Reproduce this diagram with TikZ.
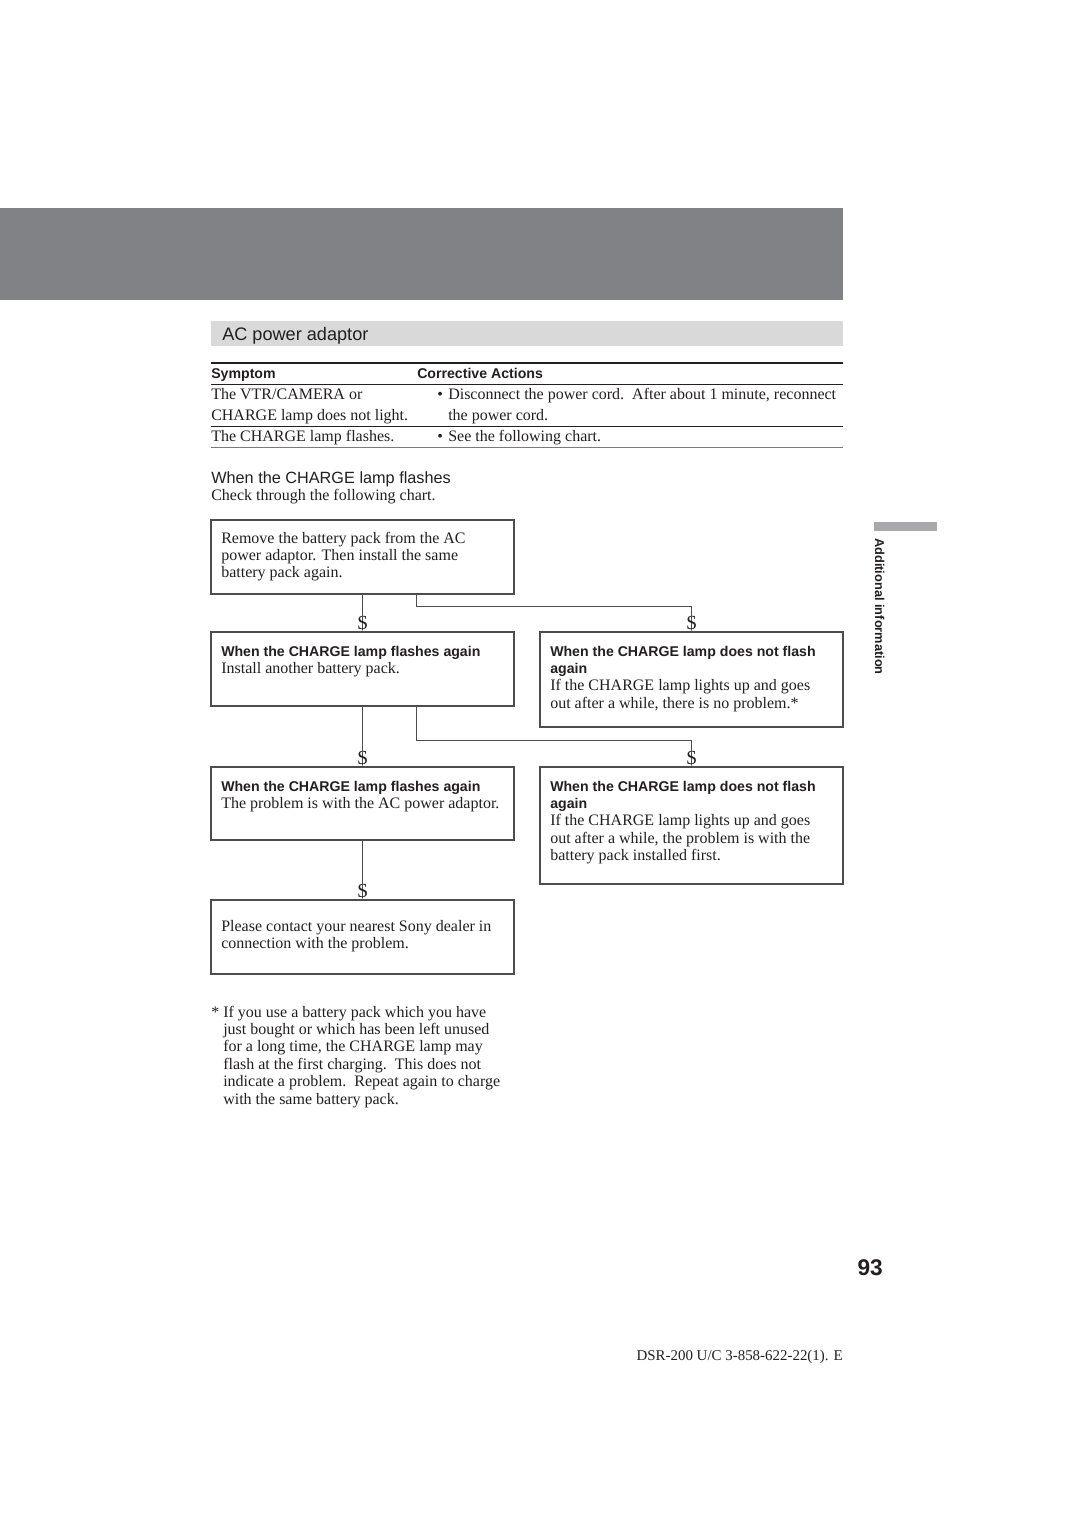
\documentclass[tikz,border=0pt]{standalone}
\usepackage{fontspec}
\setmainfont{Liberation Serif}
\setsansfont{Liberation Sans}
\usetikzlibrary{fit}
\definecolor{ink}{HTML}{231F20}
\definecolor{band}{HTML}{808285}
\definecolor{bar}{HTML}{D9D9DA}
\definecolor{tabgray}{HTML}{A7A9AC}
\definecolor{rule}{HTML}{4D4D4F}
\newcommand{\hdfont}{\sffamily\bfseries\fontsize{10.6}{13.1}\selectfont}
\newcommand{\bodyfont}{\rmfamily\fontsize{12}{13.1}\selectfont}
\begin{document}
\begin{tikzpicture}[x=0.75pt,y=-0.75pt,
  box/.style={draw=rule, line width=1.1pt, inner sep=0pt},
  conn/.style={draw=rule, line width=1.1pt},
  tip/.style={inner sep=0pt, font=\rmfamily\fontsize{15}{15}\selectfont, text=ink, anchor=south},
  txt/.style={inner sep=0pt, anchor=base west, text=ink, font=\bodyfont},
  hd/.style={inner sep=0pt, anchor=base west, text=ink, font=\hdfont},
  trule/.style={draw=ink, line width=0.5pt}
]
\fill[white] (0,0) rectangle (1080,1528);
\useasboundingbox (0,0) rectangle (1080,1528);

% top band and title bar
\fill[band] (0,208) rectangle (843,300);
\fill[bar] (211,321) rectangle (843,346);
\node[inner sep=0pt, anchor=base west, text=ink, font=\sffamily\fontsize{13.6}{16}\selectfont] (title) at (222,340) {AC power adaptor};

% table
\draw[draw=ink, line width=1.4pt] (211,363) -- (843,363);
\node[hd] (hs) at (211,378) {Symptom};
\node[hd] (hc) at (417,378) {Corrective Actions};
\draw[trule] (211,384) -- (843,384);
\node[txt] (r1) at (211,399) {\parbox[t]{200pt}{\fontsize{12}{15.75}\selectfont The VTR/CAMERA or\\CHARGE lamp does not light.}};
\node[txt] (r1b) at (437,399) {\textbullet};
\node[txt] (r1c) at (448,399) {\parbox[t]{300pt}{\fontsize{12}{15.75}\selectfont Disconnect the power cord.\ \ After about 1 minute, reconnect\\the power cord.}};
\draw[trule] (211,426) -- (843,426);
\node[txt] (r2) at (211,441) {The CHARGE lamp flashes.};
\node[txt] (r2b) at (437,441) {\textbullet};
\node[txt] (r2c) at (448,441) {See the following chart.};
\draw[draw=ink!60, line width=0.5pt] (211,447) -- (843,447);

% section heading
\node[inner sep=0pt, anchor=base west, text=ink, font=\sffamily\fontsize{12.2}{14}\selectfont] (sec) at (211,483) {When the CHARGE lamp flashes};
\node[txt] (chk) at (211,500) {Check through the following chart.};

% boxes
\node[box, fit={(211,520)(514,594)}] (b1) {};
\node[box, fit={(211,632)(514,706)}] (b2) {};
\node[box, fit={(540,632)(843,727)}] (b3) {};
\node[box, fit={(211,767)(514,840)}] (b4) {};
\node[box, fit={(540,767)(843,884)}] (b5) {};
\node[box, fit={(211,900)(514,974)}] (b6) {};

\node[txt] (t1) at (221,543) {\parbox[t]{220pt}{Remove the battery pack from the AC\\power adaptor. Then install the same\\battery pack again.}};
\node[txt] (t2) at (221,656) {\parbox[t]{220pt}{{\hdfont When the CHARGE lamp flashes again}\\Install another battery pack.}};
\node[txt] (t3) at (550,656) {\parbox[t]{220pt}{{\hdfont When the CHARGE lamp does not flash}\\{\hdfont again}\\If the CHARGE lamp lights up and goes\\out after a while, there is no problem.*}};
\node[txt] (t4) at (221,791) {\parbox[t]{220pt}{{\hdfont When the CHARGE lamp flashes again}\\The problem is with the AC power adaptor.}};
\node[txt] (t5) at (550,791) {\parbox[t]{220pt}{{\hdfont When the CHARGE lamp does not flash}\\{\hdfont again}\\If the CHARGE lamp lights up and goes\\out after a while, the problem is with the\\battery pack installed first.}};
\node[txt] (t6) at (221,931) {\parbox[t]{220pt}{Please contact your nearest Sony dealer in\\connection with the problem.}};

% arrow tips (printed as $)
\node[tip] (a1) at (b2.north) {\$};
\node[tip] (a2) at (b3.north) {\$};
\node[tip] (a3) at (b4.north) {\$};
\node[tip] (a4) at (b5.north) {\$};
\node[tip] (a5) at (b6.north) {\$};

% connectors
\draw[conn] (b1.south) -- ([yshift=-3pt]a1.north);
\draw[conn] ([xshift=40.5pt]b1.south) -- ++(0,12) -| ([yshift=-3pt]a2.north);
\draw[conn] (b2.south) -- ([yshift=-3pt]a3.north);
\draw[conn] ([xshift=40.5pt]b2.south) -- ++(0,34) -| ([yshift=-3pt]a4.north);
\draw[conn] (b4.south) -- ([yshift=-3pt]a5.north);

% footnote
\node[txt] (star) at (211,1017) {*};
\node[txt] (fn) at (223,1017) {\parbox[t]{220pt}{\fontsize{12}{13.05}\selectfont If you use a battery pack which you have\\just bought or which has been left unused\\for a long time, the CHARGE lamp may\\flash at the first charging.\ \ This does not\\indicate a problem.\ \ Repeat again to charge\\with the same battery pack.}};

% side tab
\fill[tabgray] (874,522) rectangle (937,531);
\node[inner sep=0pt, rotate=-90, anchor=base west, text=ink, font=\sffamily\bfseries\fontsize{9.6}{11}\selectfont] (side) at (875,538) {Additional information};

% page number and footer
\node[inner sep=0pt, anchor=base east, text=ink, font=\sffamily\bfseries\fontsize{17}{20}\selectfont] (pg) at (883,1275) {93};
\node[inner sep=0pt, anchor=base east, text=ink, font=\rmfamily\fontsize{11.2}{13}\selectfont] (foot) at (843,1360) {DSR-200 U/C 3-858-622-22(1). E};
\end{tikzpicture}
\end{document}
